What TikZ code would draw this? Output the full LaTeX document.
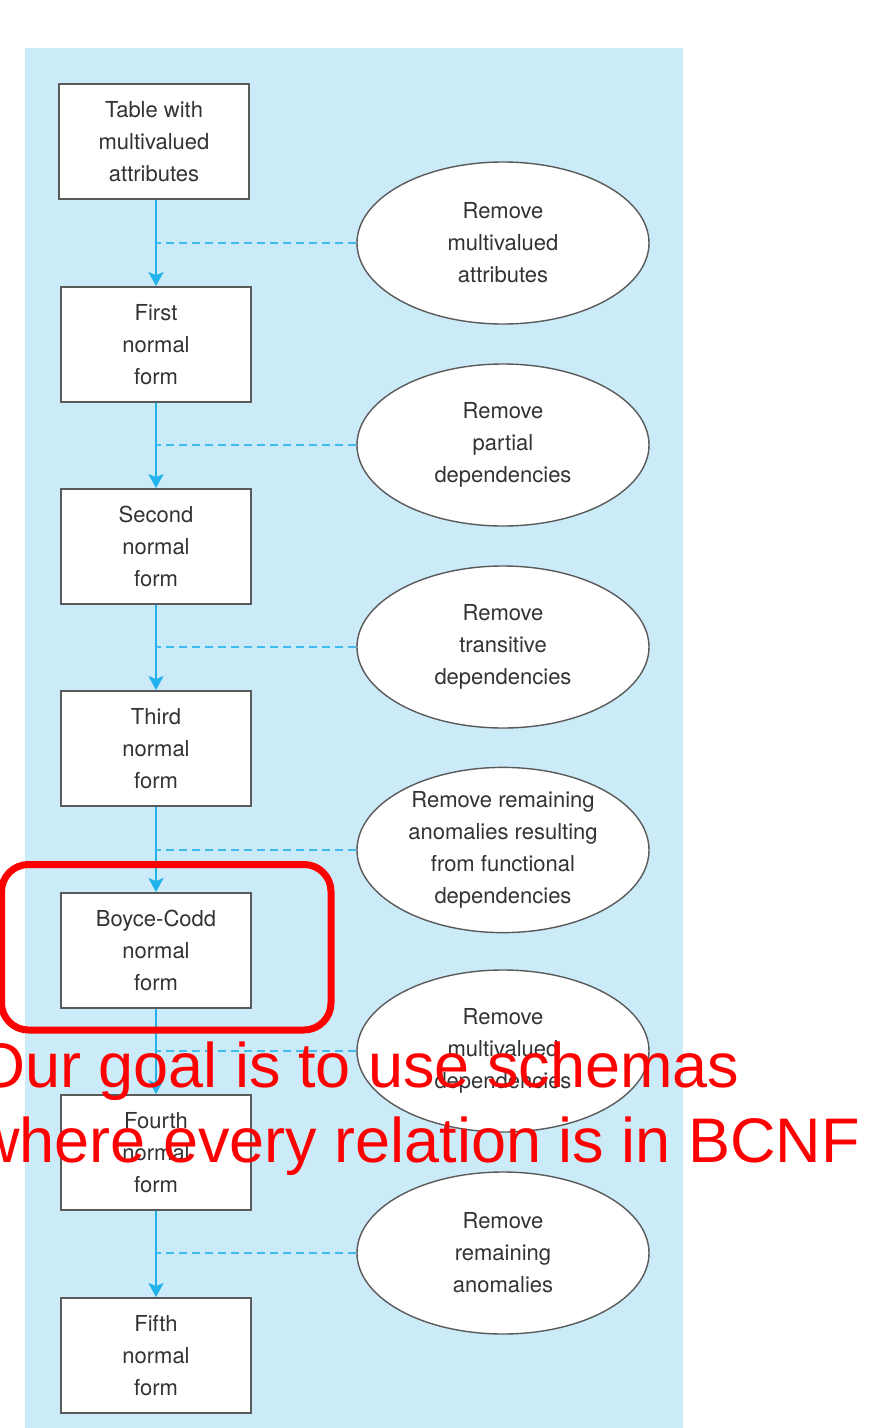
\documentclass[tikz,border=0pt]{standalone}
\usepackage{fontspec}
\setmainfont{TeX Gyre Heros}
\newfontfamily\redfont{Liberation Sans}
\usetikzlibrary{shapes.geometric,arrows.meta}
\definecolor{bgblue}{HTML}{CCEBF9}
\definecolor{flowblue}{HTML}{22B2EC}
\definecolor{dashblue}{HTML}{40BCEE}
\definecolor{edgegray}{HTML}{5A5A5A}
\definecolor{txtgray}{HTML}{333333}
\definecolor{goalred}{HTML}{FF0000}
\tikzset{
  nfbox/.style={draw=edgegray, line width=1.8pt, fill=white, minimum width=190pt, minimum height=115pt,
    align=center, inner sep=0pt, text=txtgray, font=\fontsize{22}{32}\selectfont},
  stepell/.style={draw=edgegray, line width=1.4pt, fill=white, ellipse, minimum width=292pt, minimum height=162pt,
    align=center, inner sep=0pt, text=txtgray, font=\fontsize{22}{32}\selectfont},
  flow/.style={draw=flowblue, line width=2.2pt, -{Stealth[length=14pt,width=15pt,inset=3pt]}},
  dashlink/.style={draw=dashblue, line width=2.8pt, dash pattern=on 8pt off 5pt},
  goaltext/.style={text=goalred, inner sep=0pt, font=\redfont\fontsize{63}{76}\selectfont}
}
\begin{document}
\begin{tikzpicture}[x=1pt,y=-1pt]
\useasboundingbox (0,0) rectangle (882,1428);
\clip (0,0) rectangle (882,1428);
\fill[white] (0,0) rectangle (882,1428);
\fill[bgblue] (25,48) rectangle (683,1428);

\node[nfbox] (b0) at (154,141.5) {Table with\\multivalued\\attributes};
\node[nfbox] (b1) at (156,344.5) {First\\normal\\form};
\node[nfbox] (b2) at (156,546.5) {Second\\normal\\form};
\node[nfbox] (b3) at (156,748.5) {Third\\normal\\form};
\node[nfbox] (b4) at (156,950.5) {Boyce-Codd\\normal\\form};
\node[nfbox] (b5) at (156,1152.5) {Fourth\\normal\\form};
\node[nfbox] (b6) at (156,1355.5) {Fifth\\normal\\form};

\node[stepell] (e1) at (503,243) {Remove\\multivalued\\attributes};
\node[stepell] (e2) at (503,445) {Remove\\partial\\dependencies};
\node[stepell] (e3) at (503,647) {Remove\\transitive\\dependencies};
\node[stepell] (e4) at (503,850) {Remove remaining\\anomalies resulting\\from functional\\dependencies};
\node[stepell] (e5) at (503,1051) {Remove\\multivalued\\dependencies};
\node[stepell] (e6) at (503,1253) {Remove\\remaining\\anomalies};

\foreach \a/\b/\e in {b0/b1/e1, b1/b2/e2, b2/b3/e3, b3/b4/e4, b4/b5/e5, b5/b6/e6}{
  \draw[flow] (\a.south -| \b.south) -- (\b.north);
  \draw[dashlink] (\e.west) -- (\e.west -| \b.north);
}

\draw[goalred, line width=7pt, rounded corners=27pt] (1.5,864.5) rectangle (331,1030);
\node[goaltext, anchor=base west] (g1) at (-24,1087) {Our goal is to use schemas};
\node[goaltext, anchor=base west] (g2) at (-26,1162) {where every relation is in BCNF};
\end{tikzpicture}
\end{document}
